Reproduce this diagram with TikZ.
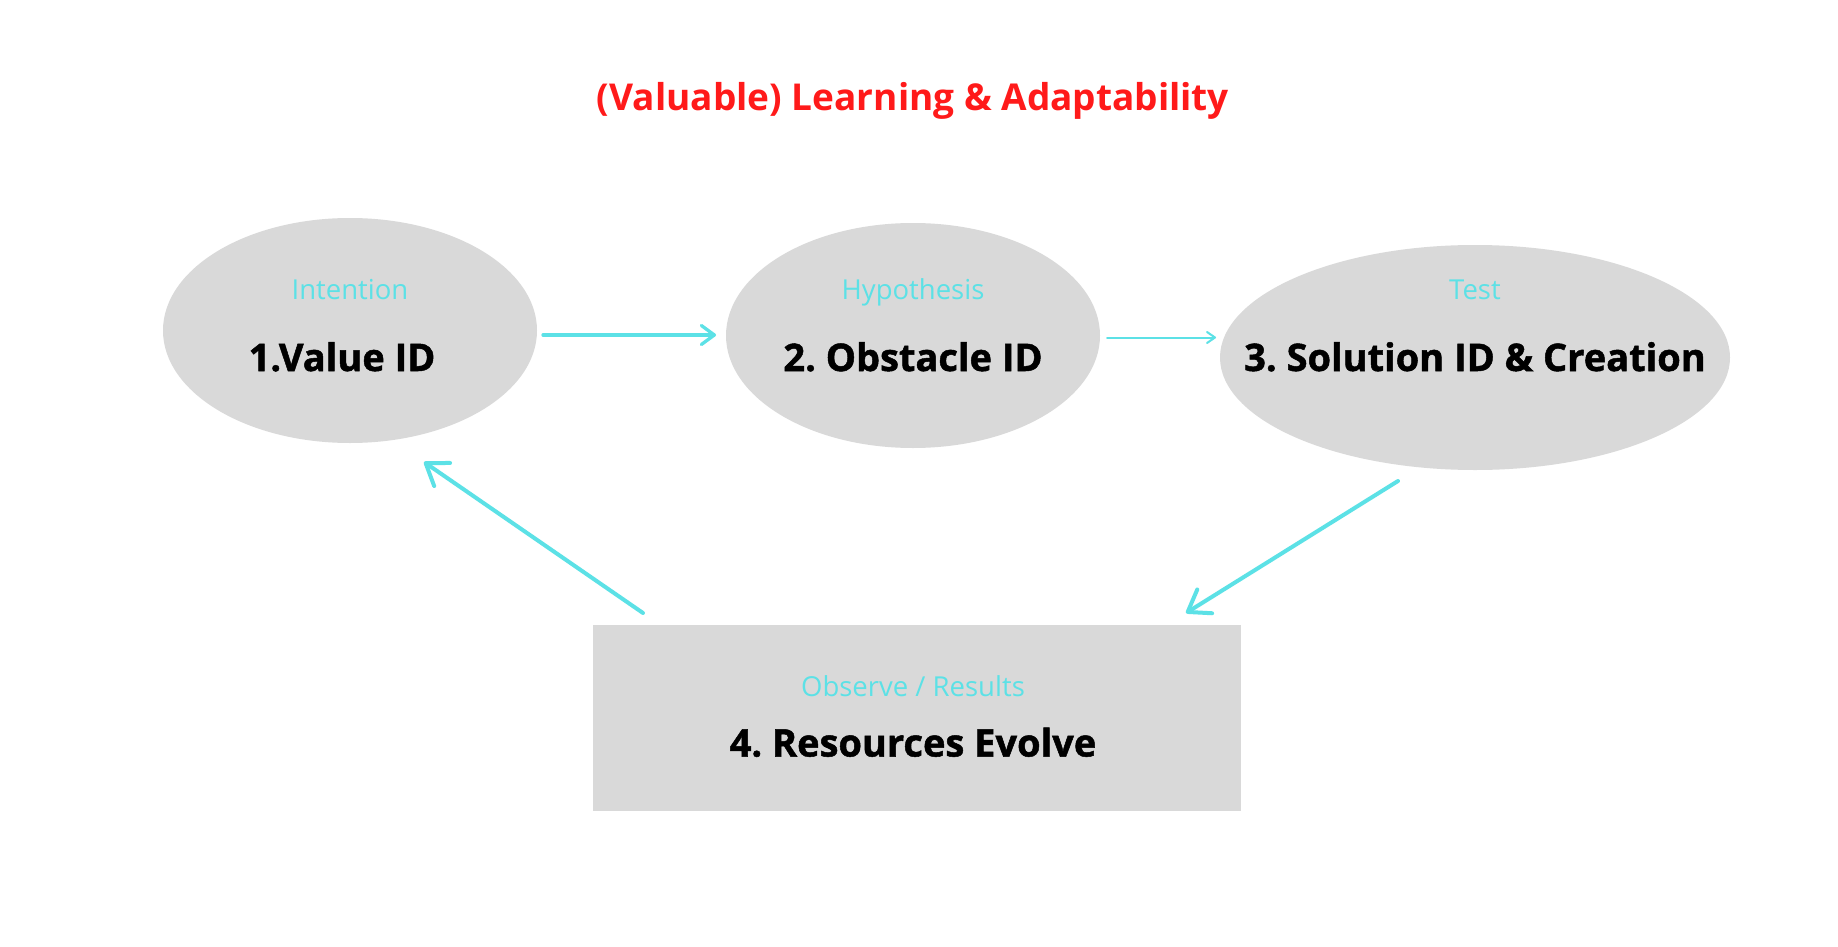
\documentclass[tikz,border=0pt]{standalone}
\usepackage{fontspec}
\setmainfont{Open Sans}
\newfontfamily\heavyfont{Open Sans}[BoldFeatures={FakeBold=1.3}]
\usetikzlibrary{arrows.meta,shapes.geometric}
\definecolor{stepgray}{HTML}{D9D9D9}
\definecolor{flowcyan}{HTML}{5CE1E6}
\definecolor{titlered}{HTML}{FF1A1A}
\frenchspacing
\begin{document}
\begin{tikzpicture}[x=1pt,y=-1pt,
  oval/.style={ellipse,fill=stepgray,inner sep=0pt,minimum height=225pt},
  panel/.style={rectangle,fill=stepgray,inner sep=0pt},
  phase/.style={text=flowcyan,font=\fontsize{27.5}{30}\selectfont,inner sep=0pt,anchor=base},
  stagelabel/.style={text=black,font=\fontsize{38}{42}\selectfont\heavyfont\bfseries,inner sep=0pt,anchor=base},
  flow/.style={draw=flowcyan,line cap=round}
]
\useasboundingbox (0,0) rectangle (1838,947);
\fill[white] (0,0) rectangle (1838,947);

% heading
\node[text=titlered,font=\fontsize{37}{40}\selectfont\bfseries,inner sep=0pt] (title) at (913,100.5) {(Valuable) Learning \& Adaptability};

% the four stages
\node[oval,minimum width=374pt] (value) at (350,330.5) {};
\node[oval,minimum width=374pt] (obstacle) at (913,335.5) {};
\node[oval,minimum width=510pt] (solution) at (1475,357.5) {};
\node[panel,minimum width=648pt,minimum height=186pt] (resources) at (917,718) {};

\node[phase] (p1) at (350,299) {Intention};
\node[phase] (p2) at (913,299) {Hypothesis};
\node[phase] (p3) at (1475,299) {Test};
\node[phase] (p4) at (913,696) {Observe / Results};

\node[stagelabel] (s1) at (342,371) {1.Value ID};
\node[stagelabel] (s2) at (913,371) {2. Obstacle ID};
\node[stagelabel] (s3) at (1475,371) {3. Solution ID \& Creation};
\node[stagelabel] (s4) at (913,756.5) {4. Resources Evolve};

% connector end points
\coordinate (a1s) at (543,335);
\coordinate (a1e) at (716,335);
\coordinate (a2s) at (1107,337.5);
\coordinate (a2e) at (1216,337.5);
\coordinate (a3s) at (1398,481);
\coordinate (a3e) at (1186,613);
\coordinate (a4s) at (643,613);
\coordinate (a4e) at (424,462);

\draw[flow,line width=3.3pt,-{Straight Barb[length=13pt,width=19pt,round]}] (a1s) -- (a1e);
\draw[flow,line width=2pt,-{Straight Barb[length=8pt,width=11pt,round]}] (a2s) -- (a2e);
\draw[flow,line width=4pt,-{Straight Barb[length=20pt,width=28pt,round]}] (a3s) -- (a3e);
\draw[flow,line width=4pt,-{Straight Barb[length=20pt,width=28pt,round]}] (a4s) -- (a4e);
\end{tikzpicture}
\end{document}
